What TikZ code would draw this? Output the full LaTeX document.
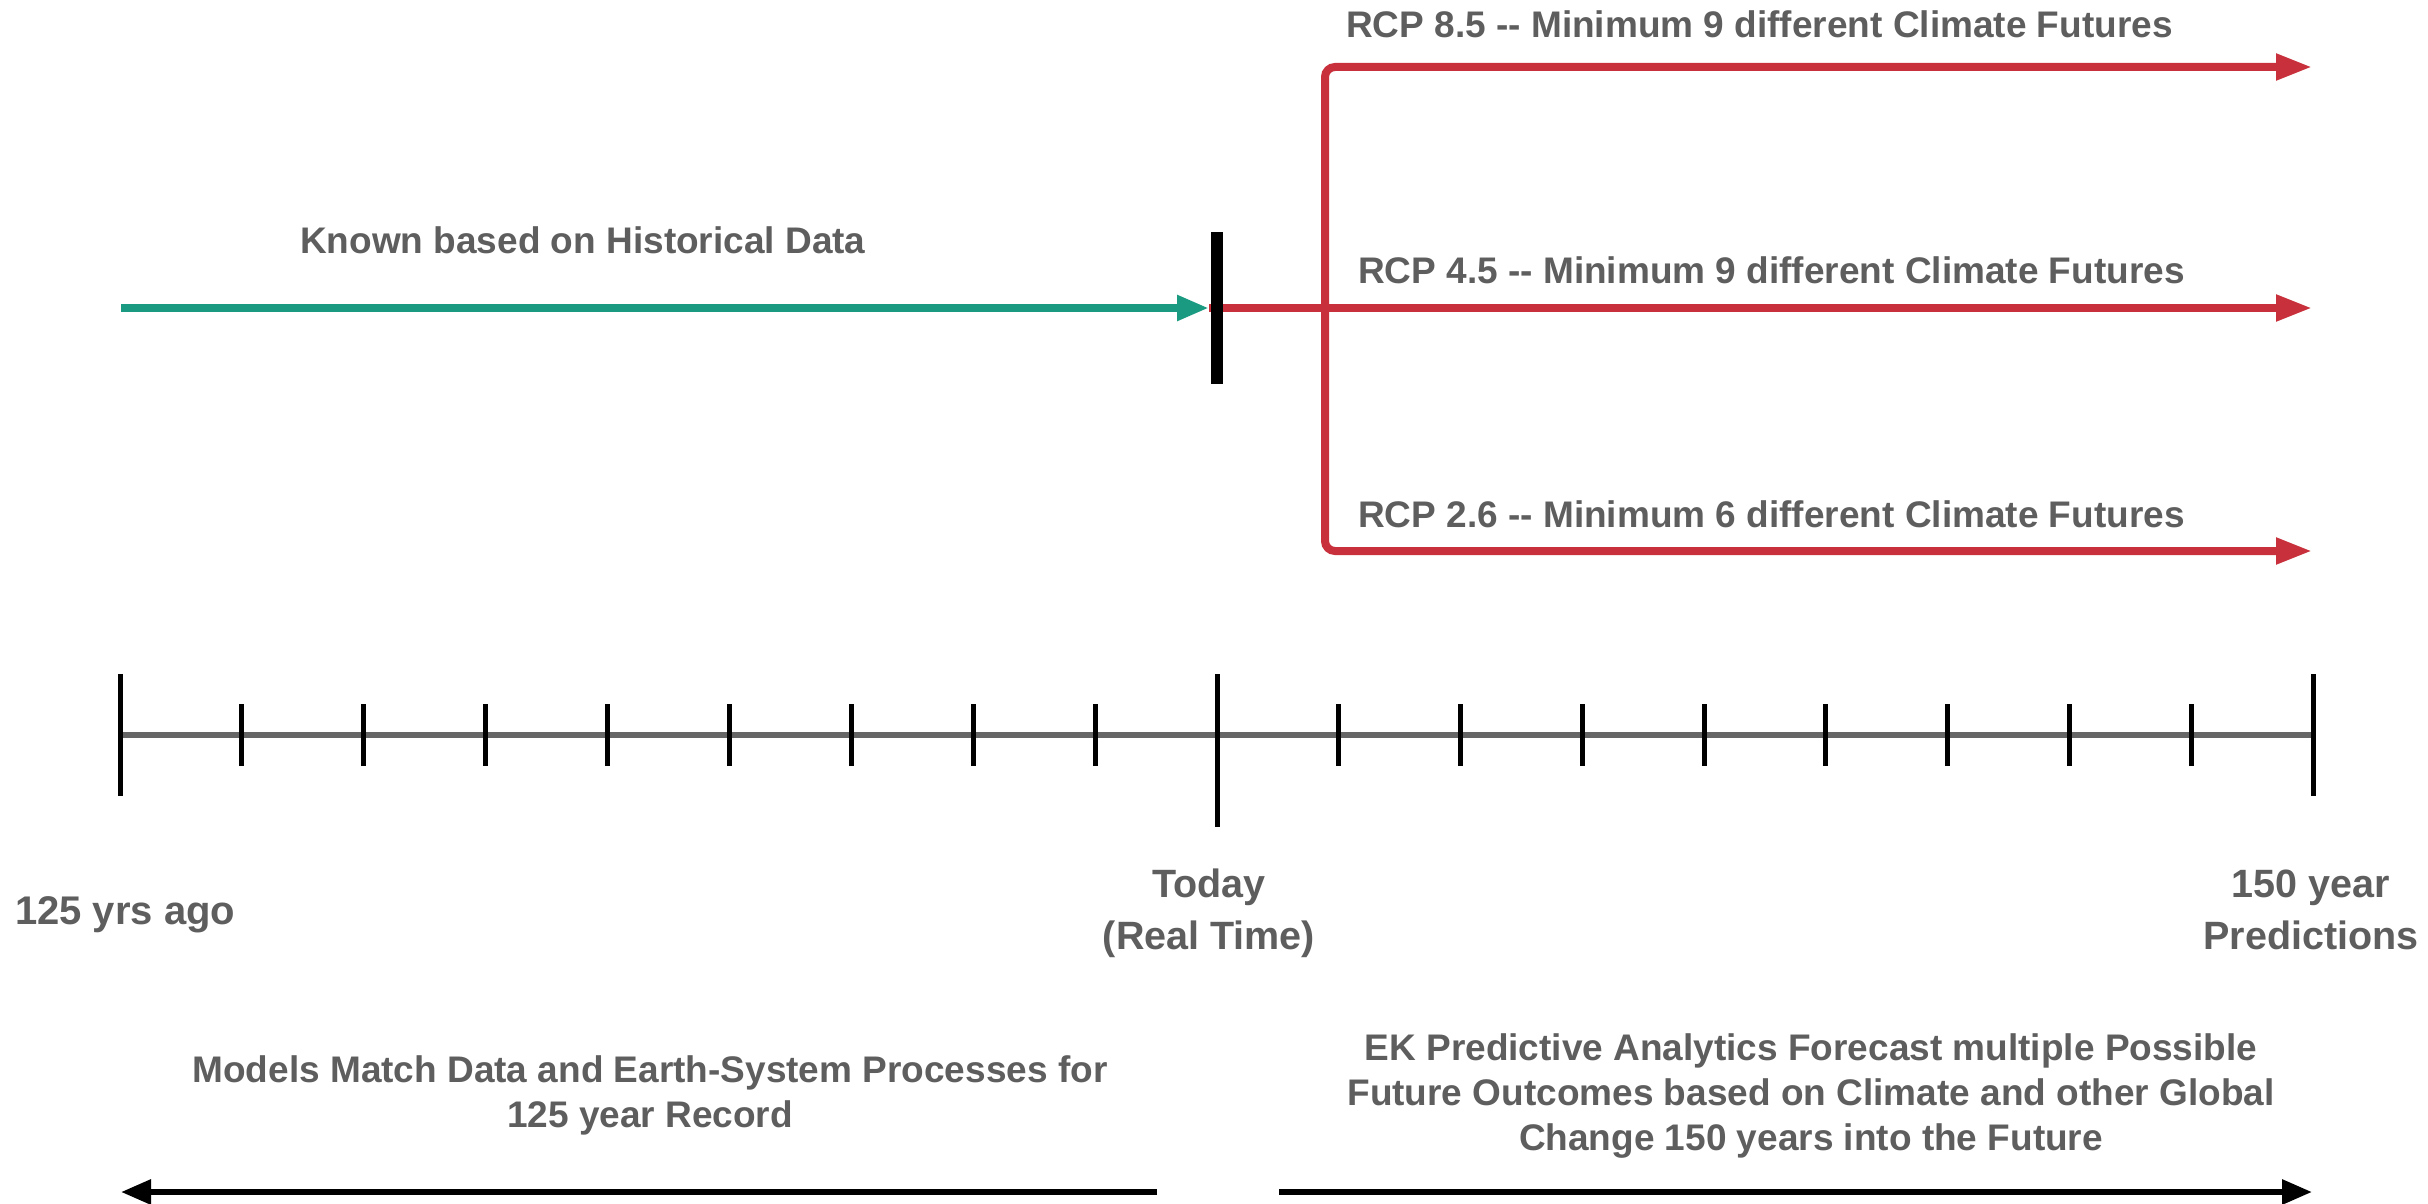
\documentclass[tikz,border=0pt]{standalone}
\usepackage{fontspec}
\setmainfont{Liberation Sans}
\usetikzlibrary{arrows.meta}
\definecolor{txtgrey}{HTML}{5E5E5E}
\definecolor{rcpred}{HTML}{C8303C}
\definecolor{histgreen}{HTML}{1A9A80}
\definecolor{axisgrey}{HTML}{666666}
\begin{document}
\begin{tikzpicture}[x=1pt,y=-1pt,
  lbl/.style={text=txtgrey, font=\fontsize{37}{45}\selectfont\bfseries, inner sep=0pt, anchor=base west},
  lblc/.style={text=txtgrey, font=\fontsize{37}{45}\selectfont\bfseries, inner sep=0pt, align=center, anchor=base},
  lbltl/.style={text=txtgrey, font=\fontsize{39.5}{52}\selectfont\bfseries, inner sep=0pt, align=center, anchor=base},
  greenline/.style={draw=histgreen, line width=8pt, -{Triangle[length=32pt,width=24pt]}},
  redline/.style={draw=rcpred, line width=8pt, -{Triangle[length=36pt,width=25pt]}},
  axisline/.style={draw=axisgrey, line width=6pt},
  tickline/.style={draw=black, line width=5pt},
  spanarrow/.style={draw=black, line width=6pt, -{Triangle[length=30pt,width=24pt]}}
]
\useasboundingbox[fill=white] (0,0) rectangle (2428,1204);

% top: history and scenarios
\coordinate (hstart) at (121,308);
\coordinate (today) at (1209,308);
\coordinate (fork) at (1325,308);
\coordinate (e85) at (2312,67);
\coordinate (e45) at (2312,308);
\coordinate (e26) at (2312,551);
\coordinate (bartop) at (1217,232);
\coordinate (barbot) at (1217,384);

\draw[greenline] (hstart) -- (today);
\draw[redline] (today) -- (e45);
\draw[redline, rounded corners=10pt] (fork) |- (e85);
\draw[redline, rounded corners=10pt] (fork) |- (e26);
\draw[draw=black, line width=12pt] (bartop) -- (barbot);

\node[lbl] (known) at (300,253) {Known based on Historical Data};
\node[lbl] (rcp85) at (1346,38) {RCP 8.5 -{}- Minimum 9 different Climate Futures};
\node[lbl] (rcp45) at (1358,283) {RCP 4.5 -{}- Minimum 9 different Climate Futures};
\node[lbl] (rcp26) at (1358,527) {RCP 2.6 -{}- Minimum 6 different Climate Futures};

% timeline
\coordinate (ax0) at (120,735);
\coordinate (ax1) at (1217,735);
\coordinate (ax2) at (2313,735);
\draw[axisline] (ax0) -- (ax2);
\draw[tickline] (120,674) -- (120,796);
\draw[tickline] (1217,674) -- (1217,827);
\draw[tickline] (2313,674) -- (2313,796);
\foreach \i in {1,...,8} {
  \draw[tickline] ({120+\i*1097/9},704) -- ({120+\i*1097/9},766);
  \draw[tickline] ({1217+\i*1096/9},704) -- ({1217+\i*1096/9},766);
}

\node[lbl, font=\fontsize{40}{48}\selectfont\bfseries] (ago) at (15,924) {125 yrs ago};
\node[lbltl] (now) at (1209,949) {Today\\(Real Time)};
\node[lbltl] (pred) at (2311,949) {150 year\\Predictions};

% bottom
\node[lblc] (models) at (650,1127) {Models Match Data and Earth-System Processes for\\125 year Record};
\node[lblc] (forecast) at (1811,1150) {EK Predictive Analytics Forecast multiple Possible\\Future Outcomes based on Climate and other Global\\Change 150 years into the Future};

\coordinate (lstart) at (1157,1192);
\coordinate (lend) at (121,1192);
\coordinate (rstart) at (1279,1192);
\coordinate (rend) at (2312,1192);
\draw[spanarrow] (lstart) -- (lend);
\draw[spanarrow] (rstart) -- (rend);
\end{tikzpicture}
\end{document}
